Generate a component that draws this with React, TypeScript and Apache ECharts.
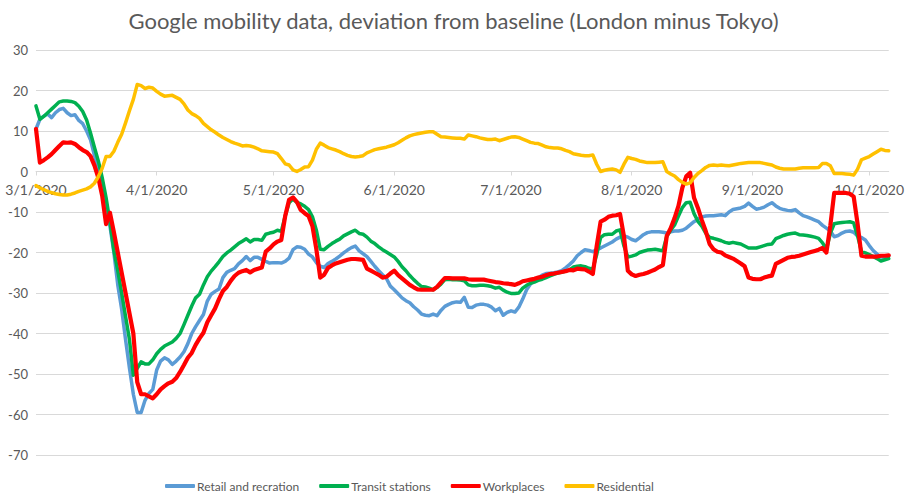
import React, { useEffect, useRef } from "react";
import * as echarts from "echarts";

// Daily categories from 3/1/2020 to 10/6/2020
const FIRST_DAY = { year: 2020, month: 3, day: 1 };
const DAY_COUNT = 220;
const categories: string[] = (() => {
  const out: string[] = [];
  for (let i = 0; i < DAY_COUNT; i++) {
    const d = new Date(Date.UTC(FIRST_DAY.year, FIRST_DAY.month - 1, FIRST_DAY.day + i));
    out.push(`${d.getUTCMonth() + 1}/${d.getUTCDate()}/${d.getUTCFullYear()}`);
  }
  return out;
})();

const monthStartLabels = ["3/1/2020", "4/1/2020", "5/1/2020", "6/1/2020", "7/1/2020", "8/1/2020", "9/1/2020", "10/1/2020"];

const Y_MIN = -70;
const Y_MAX = 30;
const Y_STEP = 10;

const seriesNames = ["Retail and recration", "Transit stations", "Workplaces", "Residential"];
const seriesColors = ["#5B9BD5", "#00B050", "#FF0000", "#FFC000"];

const retail = [
  10.5, 12.9, 13.7, 14.2, 13.3, 14.5, 15.3, 15.6, 14.5, 13.8,
  14.0, 12.6, 11.8, 10.0, 7.8, 4.0, 1.0, -3.5, -9, -13.5,
  -20, -28, -34, -41.5, -48.5, -55, -59.5, -59.5, -56.5, -54.8,
  -53.8, -49, -46.8, -46, -46.5, -47.6, -46.8, -45.8, -44.5, -42.5,
  -40, -38.3, -36.8, -35.3, -32, -30.3, -29.6, -29, -26.2, -24.9,
  -24.4, -24, -22.8, -22, -21, -22, -21.2, -21.2, -21.7, -22.2,
  -22.6, -22.5, -22.5, -22.6, -22.2, -21.4, -19.3, -18.6, -18.7, -19.2,
  -20.4, -21.1, -22.5, -23.4, -23.7, -22.7, -22.2, -21.6, -20.9, -20.1,
  -19.4, -18.8, -18.4, -19.6, -20.3, -21, -22.2, -23.4, -24.5, -25.5,
  -26.4, -28.3, -29.2, -30.2, -31.2, -31.9, -32.4, -33.4, -34.2, -35.2,
  -35.5, -35.6, -35.2, -35.6, -34.3, -33.3, -32.8, -32.4, -32.2, -32.3,
  -31.1, -33.5, -33.6, -33, -32.8, -32.8, -33, -33.5, -34.4, -33.8,
  -35.5, -34.8, -34.4, -34.7, -33.5, -31.5, -29.2, -27.8, -26.8, -26.3,
  -25.6, -25.2, -25.1, -25, -24.8, -24.5, -23.8, -23, -22.1, -20.8,
  -20, -19.3, -19.5, -19.8, -19.3, -18.9, -18.4, -17.9, -17.4, -16.7,
  -16.2, -15.9, -16.2, -16.8, -17.1, -16.4, -15.6, -15.1, -14.9, -14.9,
  -14.9, -15, -15.2, -14.9, -14.7, -14.7, -14.5, -14, -13.2, -12.4,
  -11.8, -11.2, -11, -10.9, -10.9, -10.8, -10.7, -10.9, -10, -9.4,
  -9.2, -9, -8.6, -7.8, -8.6, -9.3, -9.1, -8.8, -8.2, -7.7,
  -8.5, -9.1, -9.4, -9.6, -9.7, -9.4, -10.2, -10.9, -11.2, -11.6,
  -12, -12.4, -13.3, -14, -14.7, -16.1, -15.8, -15.2, -14.8, -14.7,
  -15, -15.9, -16.3, -16.9, -18.3, -19.5, -20.4, -21.1, -21.2, -20.8,
];

const transit = [
  16.2, 12.9, 13.6, 14.5, 15.4, 16.3, 17.2, 17.4, 17.4, 17.3,
  17, 16.1, 14.8, 12.7, 9.5, 6, 2.6, -1.5, -6.5, -12.5,
  -19.5, -24.5, -30, -35.8, -41.5, -50.3, -48.6, -47, -47.5, -47.5,
  -46.5, -45, -43.9, -43.1, -42.6, -42.1, -41.2, -40, -37.8, -35.5,
  -33.2, -31.2, -30.3, -28, -26, -24.6, -23.5, -22.3, -21, -20.1,
  -19.4, -18.6, -17.8, -17.2, -16.6, -17.4, -16.8, -16.8, -17, -15.5,
  -15.2, -15, -14.5, -14.8, -11, -7.7, -6.8, -7.6, -8, -8.6,
  -9.4, -11.2, -14.5, -19.2, -19.3, -18.5, -17.8, -17.2, -16.7, -15.9,
  -15.4, -14.9, -14.5, -15.3, -15.5, -16.2, -17.2, -17.8, -18.6, -19.3,
  -19.9, -20.5, -21.1, -22.2, -23.5, -24.5, -25.7, -26.7, -27.6, -28.4,
  -28.5, -28.8, -29.2, -28.6, -27.8, -26.7, -26.6, -26.7, -26.7, -26.8,
  -27, -28, -28.2, -28.2, -28.1, -28.1, -28.2, -28.4, -28.8, -28.6,
  -29.3, -29.8, -30.1, -30.1, -30, -28.8, -28.1, -27.6, -27.3, -26.9,
  -26.6, -26.2, -25.8, -25.4, -25.1, -24.9, -24.6, -24.3, -23.6, -23.4,
  -23.3, -23.5, -23.9, -24.1, -20.5, -16.3, -15.6, -15.5, -15.5, -14.7,
  -14.4, -18.4, -21.1, -20.9, -20.6, -20, -19.7, -19.4, -19.3, -19.2,
  -19.4, -19.6, -16, -14.5, -13.2, -11, -8.9, -7.7, -7.6, -10.4,
  -12.3, -13.5, -15.2, -16.3, -16.5, -16.8, -17.1, -17.5, -17.7, -17.5,
  -17.7, -17.9, -18.4, -18.9, -18.9, -18.9, -18.6, -18.3, -18, -17.9,
  -16.6, -16.2, -15.8, -15.5, -15.3, -15.2, -15.6, -15.7, -15.8, -16,
  -16.2, -16.5, -17.6, -19.2, -15.3, -12.9, -12.7, -12.6, -12.5, -12.4,
  -12.7, -15.9, -19.8, -20.1, -20.5, -21, -21.5, -22.1, -21.8, -21.5,
];

const workplaces = [
  10.5, 2.2, 2.8, 3.5, 4.3, 5.3, 6.3, 7.2, 7.1, 7.2,
  6.8, 6.0, 5.3, 4.8, 3.8, 1.5, -1.5, -6.0, -13.0, -10.2,
  -15, -20, -25, -30, -35, -40, -52, -55, -55, -55.5,
  -56, -55, -53.8, -53, -52.3, -51.9, -51, -49.5, -47.8, -46,
  -44.8, -42.8, -41.2, -39.8, -37.2, -35.5, -33.8, -31.5, -29.5, -28.5,
  -27, -25.8, -25, -24.6, -24.3, -24.9, -24.3, -24, -23.7, -19.8,
  -19, -18, -17.3, -16.9, -11, -7, -6.4, -7.5, -9.5, -10.3,
  -11, -13.5, -19.2, -26.2, -25.5, -23.8, -23.2, -22.7, -22.4, -22.1,
  -21.8, -21.6, -21.6, -21.7, -21.8, -24, -24.5, -25, -25.5, -26.2,
  -26, -25.2, -24.5, -25.6, -26.4, -27.2, -28, -28.6, -29.1, -29.2,
  -29.2, -29.2, -29.2, -28.5, -27.4, -26.3, -26.3, -26.4, -26.4, -26.4,
  -26.4, -26.6, -26.7, -26.7, -26.7, -26.7, -26.9, -27.1, -27.3, -27.4,
  -27.6, -27.7, -27.8, -28, -27.6, -27.1, -26.9, -26.7, -26.5, -26.2,
  -26, -25.6, -25.3, -25.2, -25, -24.8, -24.6, -24.3, -24.4, -24,
  -24.1, -24.2, -24.7, -25.3, -18.4, -12.4, -11.9, -11.2, -10.9, -10.8,
  -10.5, -16, -24.5, -25.4, -25.8, -25.5, -25.3, -25, -24.6, -24.2,
  -23.6, -23.1, -15.9, -14, -11.5, -8.5, -4, -1.2, -0.3, -6.5,
  -9, -12, -14.7, -17.9, -19.2, -19.8, -20, -20.7, -21.1, -21.5,
  -22.1, -22.7, -23.4, -26.2, -26.5, -26.6, -26.6, -26.2, -25.9, -25.7,
  -22.8, -22.3, -21.8, -21.3, -21.1, -21, -20.8, -20.5, -20.2, -19.9,
  -19.6, -19.3, -18.9, -20, -13.4, -5.3, -5.3, -5.3, -5.3, -5.5,
  -6.2, -12.9, -20.8, -21, -21, -21, -21, -20.8, -20.8, -20.7,
];

const residential = [
  -3.5, -4, -4.5, -4.9, -5.2, -5.5, -5.7, -5.8, -5.8, -5.6,
  -5.3, -4.9, -4.6, -4.3, -3.8, -2.9, -1.3, 0.8, 3.7, 3.7,
  5, 7.2, 9.2, 12, 15, 17.8, 21.5, 21.2, 20.5, 20.8,
  20.6, 19.8, 19.1, 18.6, 18.7, 18.8, 18.3, 17.8, 16.7, 15.2,
  14.3, 13.8, 13.1, 11.9, 11.1, 10.3, 9.7, 9, 8.4, 7.9,
  7.4, 7, 6.7, 6.3, 6.4, 6.3, 6, 5.6, 5.1, 5,
  4.9, 4.8, 4.4, 3.2, 1.9, 1.6, 0.4, 0, 0.5, 1.1,
  1.2, 2.8, 5.5, 7, 6.5, 5.9, 5.6, 5.3, 4.9, 4.4,
  4, 3.7, 3.6, 3.7, 3.9, 4.6, 5, 5.4, 5.6, 5.8,
  6, 6.3, 6.6, 7.1, 7.7, 8.3, 8.8, 9.1, 9.3, 9.5,
  9.7, 9.8, 9.8, 9.2, 8.6, 8.5, 8.4, 8.3, 8.2, 8.2,
  8, 9, 8.8, 8.6, 8.3, 8.1, 7.9, 7.9, 8, 7.6,
  7.9, 8.2, 8.5, 8.6, 8.4, 8, 7.6, 7.2, 7, 6.9,
  6.5, 6.1, 5.9, 5.8, 5.8, 5.6, 5.2, 4.9, 4.4, 4.2,
  4, 3.9, 3.9, 4.1, 1.8, 0, 0.3, 0.5, 0.6, 0.4,
  -0.2, 1.8, 3.5, 3.2, 3, 2.6, 2.4, 2.2, 2.2, 2.2,
  2.3, 2.4, 0, -0.6, -1.1, -2, -2.7, -3.1, -2.8, -1.5,
  -0.5, 0.2, 1, 1.5, 1.6, 1.5, 1.6, 1.5, 1.4, 1.6,
  1.8, 2, 2.1, 2.2, 2.2, 2.2, 2.2, 2, 1.8, 1.6,
  1.1, 0.8, 0.6, 0.6, 0.6, 0.6, 0.8, 0.9, 0.9, 0.9,
  0.9, 1, 2, 2, 1.4, -0.5, -0.5, -0.5, -0.6, -0.7,
  -0.9, 0.6, 2.9, 3.3, 3.7, 4.3, 4.9, 5.5, 5.2, 5.1,
];

const seriesValues = [retail, transit, workplaces, residential];
const lineWidths = [3.5, 3.5, 4.2, 3.5];

const FONT = "Lato, 'Liberation Sans', sans-serif";
const TEXT_COLOR = "#595959";

// grid geometry
const GRID_TOP = 50;
const GRID_BOTTOM = 43;
const CHART_H = 498;

export default function App() {
  const ref = useRef<HTMLDivElement>(null);

  useEffect(() => {
    if (!ref.current) return;
    const chart = echarts.init(ref.current, undefined, { renderer: "svg" });
    const isMonthStart = (_i: number, v: string) => monthStartLabels.includes(v);
    // move the category axis up so that it crosses the value axis at 0
    const gridH = CHART_H - GRID_TOP - GRID_BOTTOM;
    const zeroFromBottom = ((0 - Y_MIN) / (Y_MAX - Y_MIN)) * gridH;
    chart.setOption({
      animation: false,
      backgroundColor: "#ffffff",
      textStyle: { fontFamily: FONT },
      title: {
        text: "Google mobility data, deviation from baseline (London minus Tokyo)",
        left: "center",
        top: 4,
        textStyle: { fontFamily: FONT, fontSize: 22, fontWeight: "normal", color: TEXT_COLOR },
      },
      legend: {
        left: 165,
        top: 480,
        padding: 0,
        itemWidth: 30,
        itemHeight: 4,
        itemGap: 20,
        icon: "roundRect",
        textStyle: { fontFamily: FONT, fontSize: 12, color: TEXT_COLOR, padding: [0, 0, 0, -3] },
        data: seriesNames,
      },
      grid: { left: 36, right: 14, top: GRID_TOP, bottom: GRID_BOTTOM, containLabel: false },
      xAxis: {
        type: "category",
        data: categories,
        boundaryGap: false,
        position: "bottom",
        offset: -zeroFromBottom,
        axisLine: { onZero: false, lineStyle: { color: "#d9d9d9", width: 1 } },
        axisTick: { show: true, interval: isMonthStart, length: 4, lineStyle: { color: "#d9d9d9" } },
        axisLabel: {
          interval: isMonthStart,
          margin: 11,
          fontFamily: FONT,
          fontSize: 14,
          color: TEXT_COLOR,
        },
        splitLine: { show: false },
      },
      yAxis: {
        type: "value",
        min: Y_MIN,
        max: Y_MAX,
        interval: Y_STEP,
        axisLine: { show: false },
        axisTick: { show: false },
        axisLabel: { margin: 8, fontFamily: FONT, fontSize: 13, color: TEXT_COLOR },
        splitLine: { lineStyle: { color: "#d9d9d9", width: 1 } },
      },
      series: seriesNames.map((name, i) => ({
        name,
        type: "line",
        data: seriesValues[i],
        symbol: "none",
        showSymbol: false,
        smooth: false,
        color: seriesColors[i],
        lineStyle: { color: seriesColors[i], width: lineWidths[i], join: "round", cap: "round" },
      })),
    });
    return () => chart.dispose();
  }, []);

  return (
    <div
      ref={ref}
      style={{ position: "absolute", left: 0, top: 0, width: 907, height: 498, background: "#fff" }}
    />
  );
}
